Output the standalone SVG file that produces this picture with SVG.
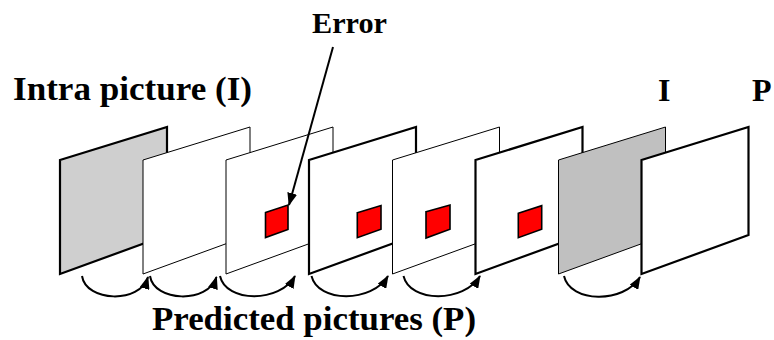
<svg xmlns="http://www.w3.org/2000/svg" width="774" height="340" viewBox="0 0 774 340">
<style>
.lbl{font-family:"Liberation Serif","Times New Roman",serif;font-weight:bold;fill:#000}
.thick{stroke:#000;stroke-width:2.2;stroke-linejoin:miter}
.thin{stroke:#000;stroke-width:1}
.white{fill:#fff}
.g1{fill:#cfcfcf}
.g2{fill:#c0c0c0}
.err{fill:#ff0000;stroke:#000;stroke-width:1.6}
.arc{fill:none;stroke:#000;stroke-width:2;marker-end:url(#ah)}
</style>
<defs>
<marker id="ah" markerUnits="userSpaceOnUse" markerWidth="13" markerHeight="10" refX="12" refY="5" orient="auto">
<path d="M0,0 L13,5 L0,10 z" fill="#000"/>
</marker>
</defs>
<rect width="774" height="340" fill="#fff"/>
<g id="labels">
<text class="lbl" x="312" y="33" font-size="30" textLength="75" lengthAdjust="spacingAndGlyphs">Error</text>
<text class="lbl" x="13" y="100" font-size="33" textLength="239" lengthAdjust="spacingAndGlyphs">Intra picture (I)</text>
<text class="lbl" x="658" y="100.5" font-size="32">I</text>
<text class="lbl" x="752" y="100.5" font-size="32">P</text>
<text class="lbl" x="152" y="330" font-size="34" textLength="324" lengthAdjust="spacingAndGlyphs">Predicted pictures (P)</text>
</g>
<g id="frame1"><polygon class="g1 thick" points="60,160 167,127 167,235 60,274"/></g>
<g id="frame2"><polygon class="white thin" points="143,160 250,127 250,235 143,274"/></g>
<g id="frame3"><polygon class="white thin" points="226,160 333,127 333,235 226,274"/>
<polygon class="err" points="265.5,212.5 288,205 288,229.5 265.5,237.5"/></g>
<g id="frame4"><polygon class="white thick" points="309,160 416,127 416,235 309,274"/>
<polygon class="err" points="357.3,212.7 381,205.5 381,229.3 357.3,237.7"/></g>
<g id="frame5"><polygon class="white thin" points="392.5,160 499.5,127 499.5,235 392.5,274"/>
<polygon class="err" points="426,211.7 450,205 450,229.3 426,238"/></g>
<g id="frame6"><polygon class="white thick" points="475.5,160 582.5,127 582.5,235 475.5,274"/>
<polygon class="err" points="518.3,213.3 541.7,205.7 541.7,229.3 518.3,237.7"/></g>
<g id="frame7"><polygon class="g2 thin" points="558.5,160 665.5,127 665.5,235 558.5,274"/></g>
<g id="frame8"><polygon class="white thick" points="641.5,160 748.5,127 748.5,235 641.5,274"/></g>
<g id="connectors">
<line x1="333" y1="47" x2="289" y2="205" stroke="#000" stroke-width="2" marker-end="url(#ah)"/>
<path class="arc" d="M82,276 C86,302 140,304 148,277"/>
<path class="arc" d="M150,276 C154,302 208,304 216.5,277"/>
<path class="arc" d="M220,276 C226,303 280,303 295,276"/>
<path class="arc" d="M311.5,276 C318,303 372,303 388,276"/>
<path class="arc" d="M403.5,276 C410,303 464,303 480,276"/>
<path class="arc" d="M564,276 C570,303 624,304 640,277"/>
</g>
</svg>
